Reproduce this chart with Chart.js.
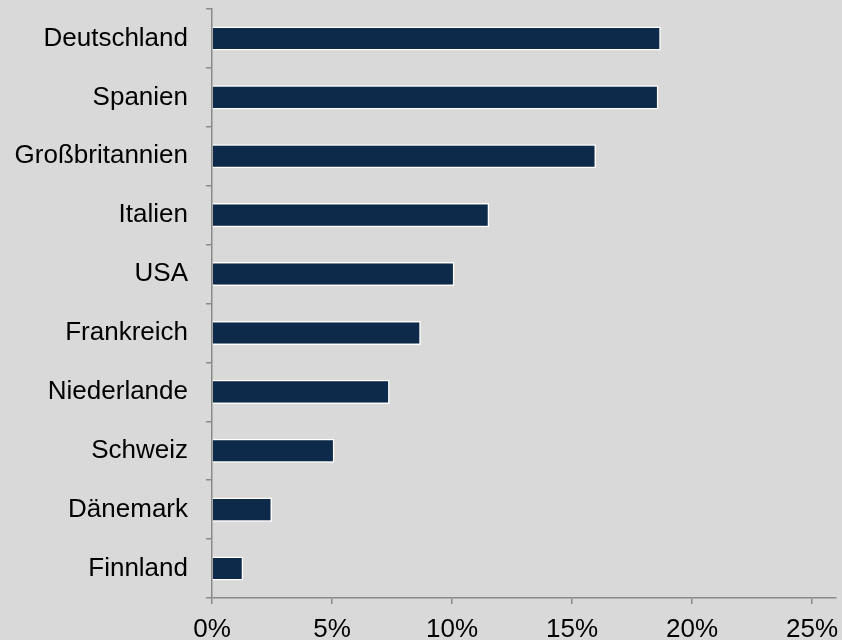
<!DOCTYPE html>
<html>
<head>
<meta charset="utf-8">
<script src="https://cdn.jsdelivr.net/npm/chart.js@4.4.1/dist/chart.umd.min.js"></script>
<style>
  html, body { margin: 0; padding: 0; background: #d9d9d9; }
  canvas { display: block; }
</style>
</head>
<body>
<canvas id="chart" width="842" height="640"></canvas>
<script>
// data (share in %)
const countries = ["Deutschland", "Spanien", "Großbritannien", "Italien", "USA",
                   "Frankreich", "Niederlande", "Schweiz", "Dänemark", "Finnland"];
const shares = [18.7, 18.6, 16.0, 11.55, 10.1, 8.7, 7.4, 5.1, 2.5, 1.3];
const xTicks = [0, 5, 10, 15, 20, 25];
const xMax = 26;

const axisGrey = '#8a8a8a';
const labelFont = { family: "'Liberation Sans', Arial, sans-serif", size: 26 };

const background = {
    id: 'background',
    beforeDraw: (chart) => {
        const c = chart.ctx;
        c.save();
        c.fillStyle = '#d9d9d9';
        c.fillRect(0, 0, chart.width, chart.height);
        c.restore();
    }
};

const ctx = document.getElementById('chart').getContext('2d');

new Chart(ctx, {
    type: 'bar',
    data: {
        labels: countries,
        datasets: [{
            data: shares,
            backgroundColor: '#0e2a4b',
            borderColor: '#ffffff',
            borderWidth: 1.5,
            categoryPercentage: 1,
            barPercentage: 0.41
        }]
    },
    options: {
        responsive: false,
        animation: false,
        indexAxis: 'y',
        layout: { padding: { top: 9, right: 6, left: 0, bottom: 0 } },
        plugins: {
            legend: { display: false },
            tooltip: { enabled: false }
        },
        scales: {
            x: {
                min: 0,
                max: xMax,
                afterBuildTicks: (s) => { s.ticks = xTicks.map(v => ({ value: v })) },
                afterFit: (s) => {
                    s.height = 42;
                    s.paddingLeft = 0;
                    s.paddingRight = 0;
                },
                ticks: {
                    callback: (v) => v + '%',
                    color: '#000',
                    font: labelFont,
                    padding: 10,
                    maxRotation: 0,
                    autoSkip: false
                },
                grid: { drawOnChartArea: false, tickLength: 6, color: axisGrey, lineWidth: 1.5 },
                border: { color: axisGrey, width: 1.5 }
            },
            y: {
                afterFit: (s) => {
                    s.width = 212;
                    s.paddingTop = 0;
                    s.paddingBottom = 0;
                },
                ticks: {
                    color: '#000',
                    font: labelFont,
                    padding: 18,
                    autoSkip: false
                },
                grid: { drawOnChartArea: false, tickLength: 6, color: axisGrey, lineWidth: 1.5 },
                border: { color: axisGrey, width: 1.5 }
            }
        }
    },
    plugins: [background]
});
</script>
</body>
</html>
